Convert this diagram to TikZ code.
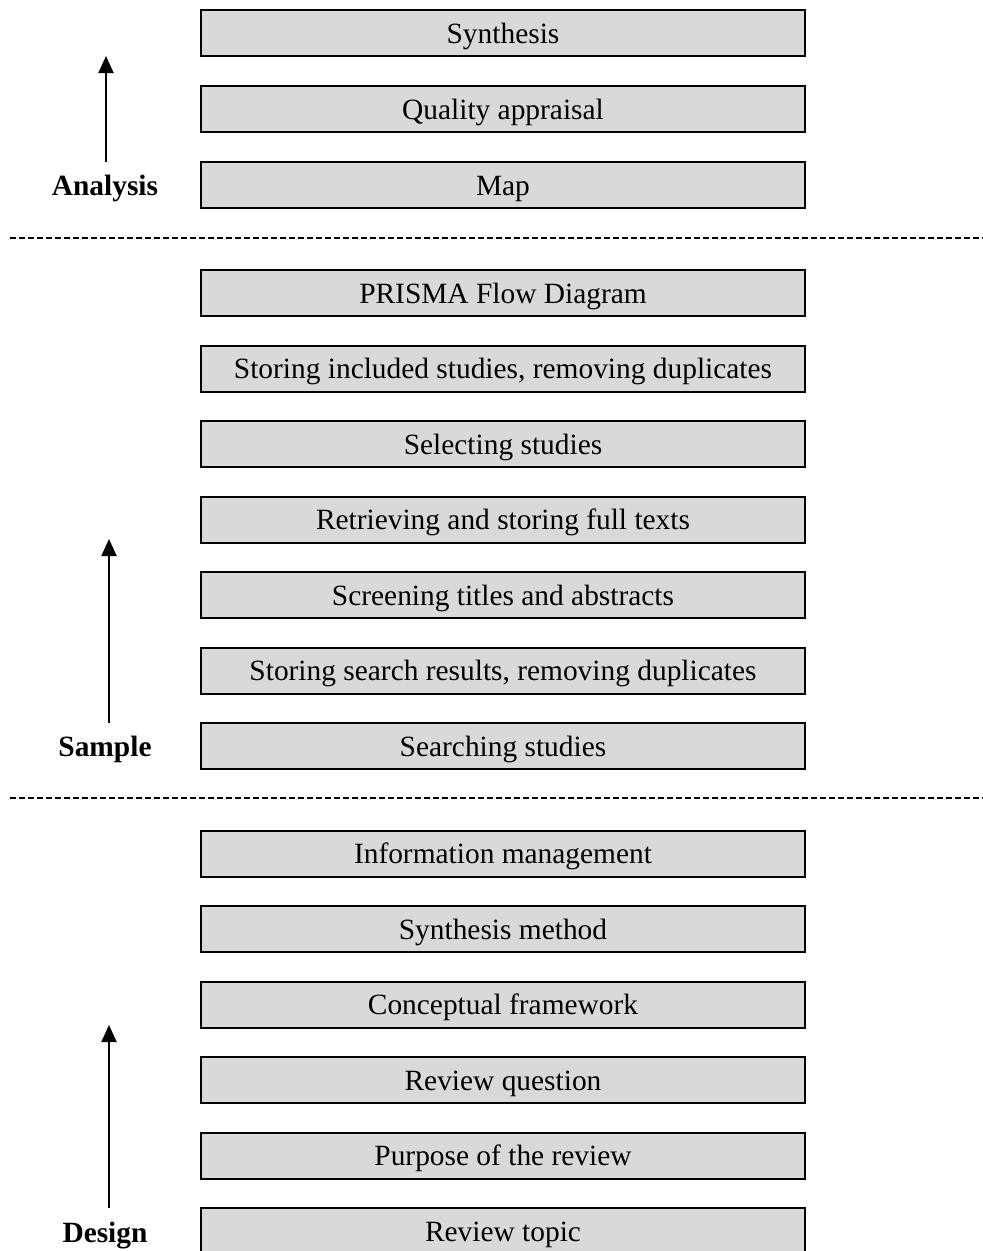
\documentclass[tikz,border=0pt]{standalone}
\usepackage{fontspec}
\setmainfont{Liberation Serif}
\usetikzlibrary{arrows.meta}
\begin{document}
\begin{tikzpicture}[x=1pt,y=-1pt,
  stepbox/.style={draw=black,line width=2pt,fill=boxgray,minimum width=604pt,minimum height=46pt,inner sep=0pt,text height=20pt,text depth=0pt,font=\fontsize{29.4}{33}\selectfont},
  phase/.style={font=\bfseries\fontsize{29.4}{33}\selectfont,inner sep=0pt,anchor=base},
  uparrow/.style={line width=2pt,-{Triangle[width=15pt,length=17pt]}},
  sep/.style={line width=1.3pt,dash pattern=on 6pt off 3pt}]
\definecolor{boxgray}{HTML}{D9D9D9}
\useasboundingbox (0,0) rectangle (983,1251);
% Analysis
\node[stepbox] (syn) at (503,33) {Synthesis};
\node[stepbox] (qual) at (503,109) {Quality appraisal};
\node[stepbox] (map) at (503,185) {Map};
\node[phase] (analysis) at (105,195) {Analysis};
\coordinate (aBot) at (106,162);
\coordinate (aTop) at (106,56);
\draw[uparrow] (aBot) -- (aTop);
% separator 1
\coordinate (s1L) at (10,238);
\coordinate (s1R) at (983,238);
\draw[sep] (s1L) -- (s1R);
% Sample
\node[stepbox] (prisma) at (503,293) {PRISMA Flow Diagram};
\node[stepbox] (storinc) at (503,368.5) {Storing included studies, removing duplicates};
\node[stepbox] (select) at (503,444) {Selecting studies};
\node[stepbox] (retr) at (503,519.5) {Retrieving and storing full texts};
\node[stepbox] (screen) at (503,595) {Screening titles and abstracts};
\node[stepbox] (storsrch) at (503,670.5) {Storing search results, removing duplicates};
\node[stepbox] (search) at (503,746) {Searching studies};
\node[phase] (sample) at (105,756) {Sample};
\coordinate (sBot) at (109,723);
\coordinate (sTop) at (109,539);
\draw[uparrow] (sBot) -- (sTop);
% separator 2
\coordinate (s2L) at (10,798);
\coordinate (s2R) at (983,798);
\draw[sep] (s2L) -- (s2R);
% Design
\node[stepbox] (info) at (503,853.5) {Information management};
\node[stepbox] (synm) at (503,929) {Synthesis method};
\node[stepbox] (conc) at (503,1004.5) {Conceptual framework};
\node[stepbox] (rq) at (503,1080) {Review question};
\node[stepbox] (purp) at (503,1155.5) {Purpose of the review};
\node[stepbox] (topic) at (503,1231) {Review topic};
\node[phase] (design) at (105,1242) {Design};
\coordinate (dBot) at (109,1208);
\coordinate (dTop) at (109,1025);
\draw[uparrow] (dBot) -- (dTop);
\end{tikzpicture}
\end{document}
